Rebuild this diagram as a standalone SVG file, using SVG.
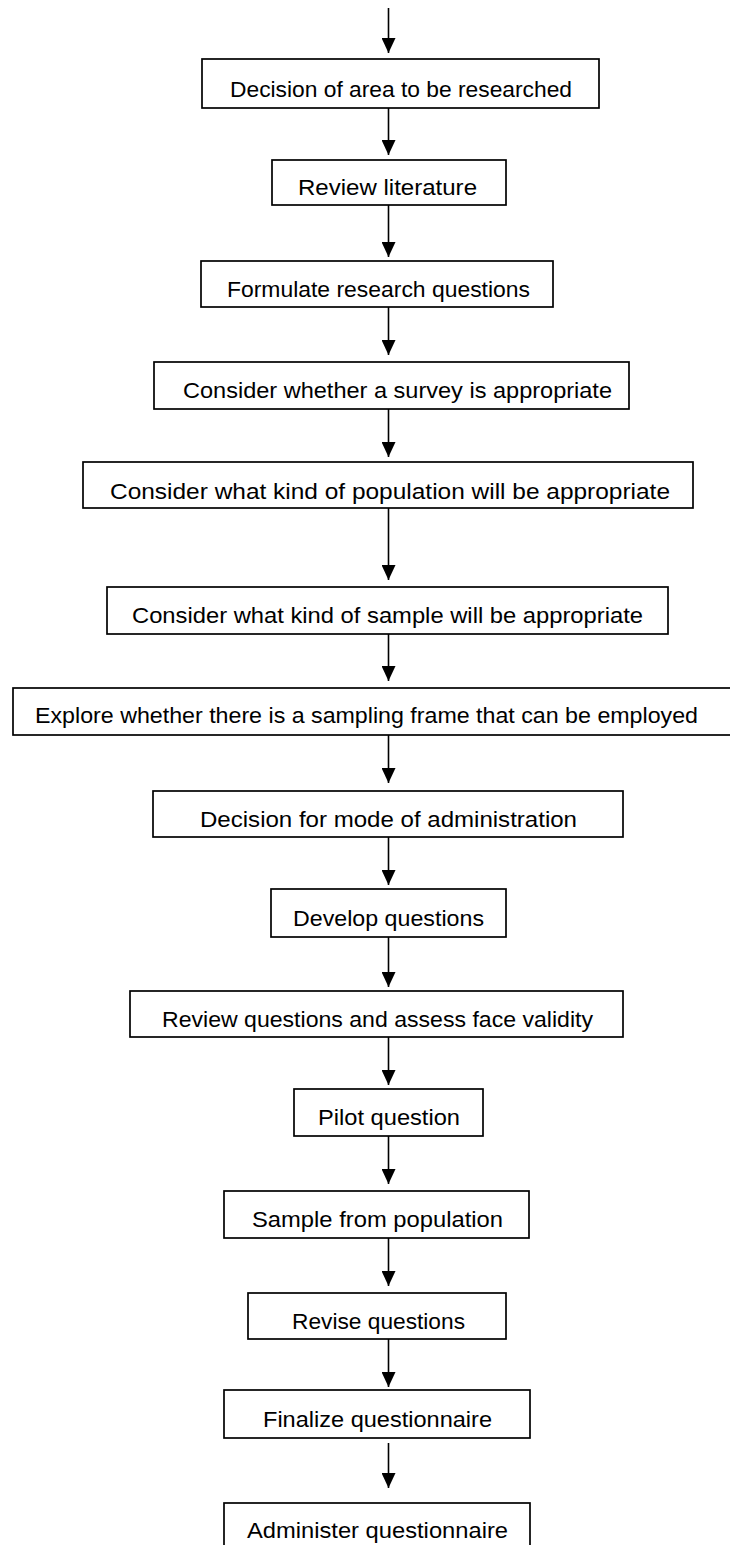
<svg xmlns="http://www.w3.org/2000/svg" width="730" height="1545" viewBox="0 0 730 1545">
<style>
.box{fill:#fff;stroke:#000;stroke-width:1.7}
.lbl{font-family:"Liberation Sans",Arial,sans-serif;font-size:22px;fill:#000;text-anchor:start}
.con{stroke:#000;stroke-width:1.6;fill:none}
</style>
<defs>
<marker id="ah" viewBox="0 0 15 14" refX="15" refY="7" markerWidth="15" markerHeight="14" markerUnits="userSpaceOnUse" orient="auto">
<path d="M0,0 L15,7 L0,14 Z" fill="#000"/>
</marker>
</defs>
<rect width="730" height="1545" fill="#fff"/>
<g id="connectors">
<line class="con" x1="388.5" y1="8" x2="388.5" y2="53" marker-end="url(#ah)"/>
<line class="con" x1="388.5" y1="108" x2="388.5" y2="155" marker-end="url(#ah)"/>
<line class="con" x1="388.5" y1="205" x2="388.5" y2="257" marker-end="url(#ah)"/>
<line class="con" x1="388.5" y1="307" x2="388.5" y2="355" marker-end="url(#ah)"/>
<line class="con" x1="388.5" y1="409" x2="388.5" y2="457" marker-end="url(#ah)"/>
<line class="con" x1="388.5" y1="508" x2="388.5" y2="580" marker-end="url(#ah)"/>
<line class="con" x1="388.5" y1="634" x2="388.5" y2="681" marker-end="url(#ah)"/>
<line class="con" x1="388.5" y1="735" x2="388.5" y2="783" marker-end="url(#ah)"/>
<line class="con" x1="388.5" y1="837" x2="388.5" y2="885" marker-end="url(#ah)"/>
<line class="con" x1="388.5" y1="937" x2="388.5" y2="987" marker-end="url(#ah)"/>
<line class="con" x1="388.5" y1="1037" x2="388.5" y2="1085" marker-end="url(#ah)"/>
<line class="con" x1="388.5" y1="1136" x2="388.5" y2="1184" marker-end="url(#ah)"/>
<line class="con" x1="388.5" y1="1238" x2="388.5" y2="1286" marker-end="url(#ah)"/>
<line class="con" x1="388.5" y1="1339" x2="388.5" y2="1387" marker-end="url(#ah)"/>
<line class="con" x1="388.5" y1="1443" x2="388.5" y2="1488" marker-end="url(#ah)"/>
</g>
<g id="n1"><rect class="box" x="202" y="59" width="397" height="49"/><text class="lbl" x="230" y="96.5" textLength="342" lengthAdjust="spacingAndGlyphs">Decision of area to be researched</text></g>
<g id="n2"><rect class="box" x="272" y="160" width="234" height="45"/><text class="lbl" x="298" y="194.5" textLength="179" lengthAdjust="spacingAndGlyphs">Review literature</text></g>
<g id="n3"><rect class="box" x="201" y="261" width="352" height="46"/><text class="lbl" x="227" y="296.5" textLength="303" lengthAdjust="spacingAndGlyphs">Formulate research questions</text></g>
<g id="n4"><rect class="box" x="154" y="362" width="475" height="47"/><text class="lbl" x="183" y="397.5" textLength="429" lengthAdjust="spacingAndGlyphs">Consider whether a survey is appropriate</text></g>
<g id="n5"><rect class="box" x="83" y="462" width="610" height="46"/><text class="lbl" x="110" y="498.5" textLength="560" lengthAdjust="spacingAndGlyphs">Consider what kind of population will be appropriate</text></g>
<g id="n6"><rect class="box" x="107" y="587" width="561" height="47"/><text class="lbl" x="132" y="622.5" textLength="511" lengthAdjust="spacingAndGlyphs">Consider what kind of sample will be appropriate</text></g>
<g id="n7"><rect class="box" x="13" y="688" width="730" height="47"/><text class="lbl" x="35" y="722.5" textLength="663" lengthAdjust="spacingAndGlyphs">Explore whether there is a sampling frame that can be employed</text></g>
<g id="n8"><rect class="box" x="153" y="791" width="470" height="46"/><text class="lbl" x="200" y="826.5" textLength="377" lengthAdjust="spacingAndGlyphs">Decision for mode of administration</text></g>
<g id="n9"><rect class="box" x="271" y="889" width="235" height="48"/><text class="lbl" x="293" y="925.5" textLength="191" lengthAdjust="spacingAndGlyphs">Develop questions</text></g>
<g id="n10"><rect class="box" x="130" y="991" width="493" height="46"/><text class="lbl" x="162" y="1026.5" textLength="431" lengthAdjust="spacingAndGlyphs">Review questions and assess face validity</text></g>
<g id="n11"><rect class="box" x="294" y="1089" width="189" height="47"/><text class="lbl" x="318" y="1124.5" textLength="142" lengthAdjust="spacingAndGlyphs">Pilot question</text></g>
<g id="n12"><rect class="box" x="224" y="1191" width="305" height="47"/><text class="lbl" x="252" y="1226.5" textLength="251" lengthAdjust="spacingAndGlyphs">Sample from population</text></g>
<g id="n13"><rect class="box" x="248" y="1293" width="258" height="46"/><text class="lbl" x="292" y="1328.5" textLength="173" lengthAdjust="spacingAndGlyphs">Revise questions</text></g>
<g id="n14"><rect class="box" x="224" y="1390" width="306" height="48"/><text class="lbl" x="263" y="1426.5" textLength="229" lengthAdjust="spacingAndGlyphs">Finalize questionnaire</text></g>
<g id="n15"><rect class="box" x="224" y="1503" width="306" height="60"/><text class="lbl" x="247" y="1537.5" textLength="261" lengthAdjust="spacingAndGlyphs">Administer questionnaire</text></g>
</svg>
